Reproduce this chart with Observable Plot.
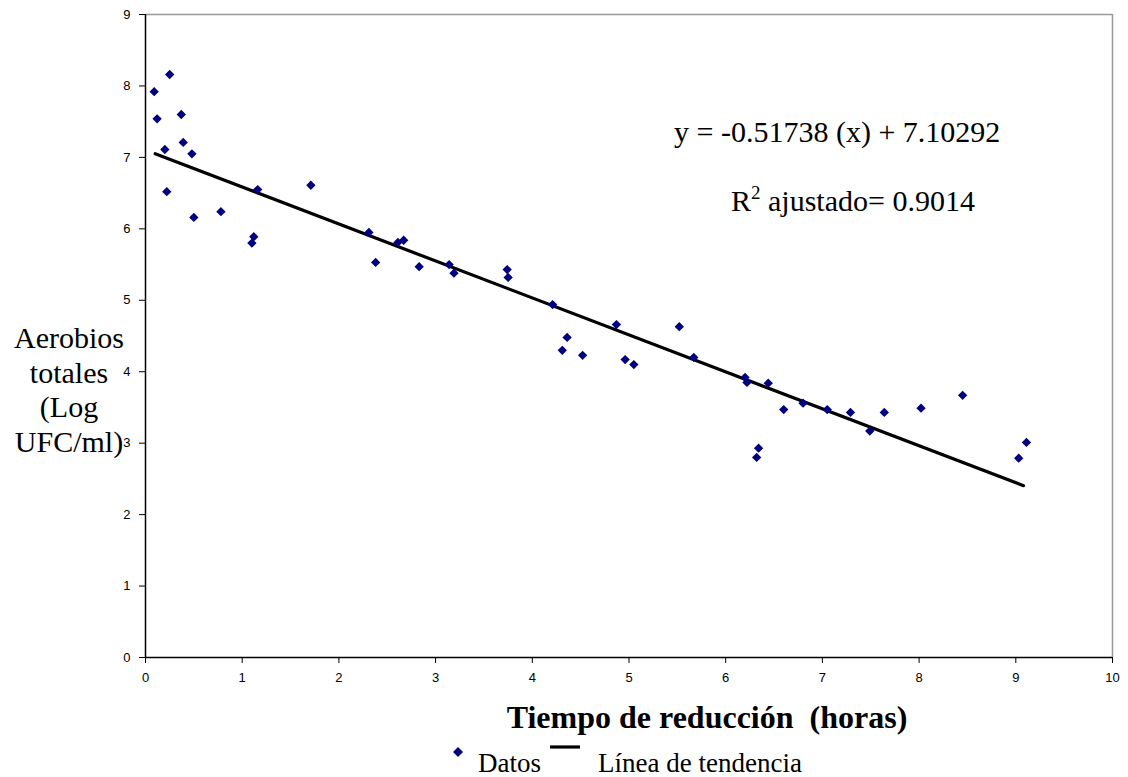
<!DOCTYPE html>
<html><head><meta charset="utf-8">
<script src="https://cdn.jsdelivr.net/npm/d3@7"></script>
<script src="https://cdn.jsdelivr.net/npm/@observablehq/plot@0.6"></script>
<style>body{margin:0;background:#fff}</style>
</head><body><div id="chart"></div>
<script>
// Data
const hours = [0.09,0.25,0.12,0.37,0.20,0.39,0.48,0.22,0.50,0.78,1.16,1.12,1.10,1.71,2.31,2.38,2.61,2.67,2.83,3.14,3.19,3.74,3.75,4.21,4.36,4.31,4.52,4.87,4.96,5.05,5.52,5.67,6.20,6.22,6.44,6.60,6.80,7.05,6.34,6.32,7.29,7.49,7.64,8.02,8.45,9.03,9.11];
const logUFC = [7.92,8.16,7.54,7.60,7.11,7.21,7.05,6.52,6.16,6.24,6.55,5.89,5.80,6.61,5.95,5.53,5.81,5.84,5.47,5.50,5.38,5.43,5.32,4.94,4.48,4.30,4.23,4.66,4.17,4.10,4.63,4.20,3.92,3.85,3.84,3.47,3.56,3.47,2.93,2.80,3.43,3.17,3.43,3.49,3.67,2.79,3.01];
const trendHours = [0.1, 9.08];
const trendLog = [7.051, 2.405];
const xTicks = [0,1,2,3,4,5,6,7,8,9,10];
const yTicks = [0,1,2,3,4,5,6,7,8,9];
const equationText = "y = -0.51738 (x) + 7.10292";
const r2Label = "R";
const r2Sup = "2";
const r2Text = " ajustado= 0.9014";
const yLabelLines = ["Aerobios", "totales", "(Log", "UFC/ml)"];
const xLabel = "Tiempo de reducción  (horas)";
const legendLabels = ["Datos", "Línea de tendencia"];

const points = hours.map((h, i) => ({h, v: logUFC[i]}));
const trend = trendHours.map((h, i) => ({h, v: trendLog[i]}));

const W = 1128, H = 777;
const chart = Plot.plot({
  width: W, height: H,
  marginLeft: 145, marginRight: 16, marginTop: 14, marginBottom: 120,
  style: {fontFamily: "'Liberation Sans', Arial, sans-serif", fontSize: "13px", background: "#fff", color: "#000"},
  x: {domain: [0, 10], ticks: xTicks},
  y: {domain: [0, 9], ticks: yTicks},
  marks: [
    Plot.ruleY([9], {stroke: "#999", strokeWidth: 1.5}),
    Plot.ruleX([10], {stroke: "#999", strokeWidth: 1.5}),
    Plot.ruleX([0], {stroke: "#000", strokeWidth: 1.5}),
    Plot.ruleY([0], {stroke: "#000", strokeWidth: 1.5}),
    Plot.axisX({ticks: xTicks, tickSize: 6, tickPadding: 9, label: null, tickFormat: d => String(d), stroke: "#000"}),
    Plot.axisY({ticks: yTicks, tickSize: 6, tickPadding: 9, label: null, tickFormat: d => String(d), stroke: "#000"}),
    Plot.line(trend, {x: "h", y: "v", stroke: "#000", strokeWidth: 3.2}),
    Plot.dot(points, {x: "h", y: "v", symbol: "diamond2", r: 4.2, fill: "#000080", stroke: "none"})
  ]
});
document.getElementById("chart").appendChild(chart);

const svg = d3.select(chart);
const serif = "'Liberation Serif', 'Times New Roman', serif";
function txt(x, y, size, anchor) {
  return svg.append("text").attr("x", x).attr("y", y).attr("font-family", serif)
    .attr("font-size", size).attr("fill", "#000").attr("text-anchor", anchor || "start")
    .style("white-space", "pre");
}
// Equation annotation
txt(674, 142, 30).text(equationText);
const r2 = txt(731, 211, 30);
r2.append("tspan").text(r2Label);
r2.append("tspan").attr("font-size", 19).attr("dy", -12).text(r2Sup);
r2.append("tspan").attr("dy", 12).text(r2Text);
// Y axis label
yLabelLines.forEach((t, i) => txt(69, 348 + i * 34.5, 30, "middle").text(t));
// X axis title
txt(707, 728, 32, "middle").attr("font-weight", "bold").attr("xml:space", "preserve").text(xLabel);
// Legend
svg.append("path").attr("d", d3.symbol(d3.symbolDiamond2, 64)()).attr("transform", "translate(458,752)").attr("fill", "#000080");
txt(478, 772, 27).text(legendLabels[0]);
svg.append("line").attr("x1", 550).attr("x2", 580).attr("y1", 747).attr("y2", 747).attr("stroke", "#000").attr("stroke-width", 3.2);
txt(598, 772, 27).text(legendLabels[1]);
</script>
</body></html>
